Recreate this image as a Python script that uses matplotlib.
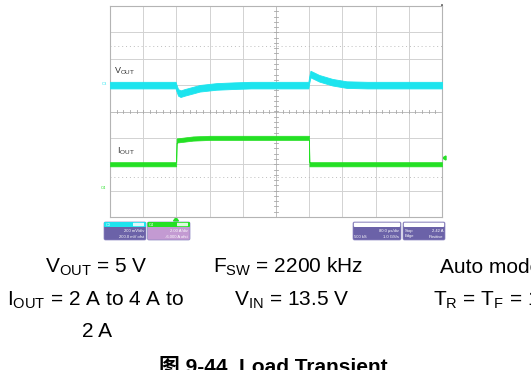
import matplotlib
matplotlib.use("Agg")
import matplotlib.pyplot as plt
import numpy as np
from matplotlib.patches import FancyBboxPatch, Polygon

plt.rcParams['font.family'] = ['Liberation Sans', 'Noto Sans CJK SC', 'DejaVu Sans']
plt.rcParams['mathtext.fontset'] = 'custom'
plt.rcParams['mathtext.rm'] = 'Liberation Sans'
plt.rcParams['mathtext.it'] = 'Liberation Sans'

# scope capture, 80 us/div, 10 divisions
t_vout = [0, 158, 160, 164, 170, 180, 200, 216, 256, 300, 340, 478, 480, 483, 504, 536, 570, 620, 800]
vout_mv = [0, 0, -20, -55, -65, -55, -38, -24, -10, -4, 0, 0, 40, 84, 52, 22, 4, 0, 0]
t_iout = [0, 159.5, 160.5, 200, 240, 479.5, 480.5, 800]
iout_a = [2.0, 2.0, 3.8, 3.95, 4.0, 4.0, 2.0, 2.0]

vout_scale = 200.0   # mV/div
iout_scale = 2.0     # A/div
vout_pos = 1.0       # div
iout_pos = -3.0      # div

ch_boxes = [("C3", "200 mV/div", "200.0 mV ofst"), ("C4", "2.00 A/div", "-6.000 A ofst")]
tb_boxes = [("80.0 \u00b5s/div", "500 kS", "1.0 GS/s"), ("Stop", "2.42 A", "Edge", "Positive")]

conds = [
    (r"$\mathregular{V_{OUT}}$ = 5 V", 96, 273, 'center'),
    (r"$\mathregular{F_{SW}}$ = 2200 kHz", 288, 273, 'center'),
    ("Auto mode", 440, 273, 'left'),
    (r"$\mathregular{I_{OUT}}$ = 2 A to 4 A to", 96, 306, 'center'),
    (r"$\mathregular{V_{IN}}$ = 13.5 V", 292, 306, 'center'),
    (r"$\mathregular{T_R}$ = $\mathregular{T_F}$ = 1 \u00b5s", 433, 306, 'left'),
    ("2 A", 97, 337, 'center'),
]

cyan = '#1de4ee'
green = '#24e024'
grid_c = '#d2d2d2'

fig = plt.figure(figsize=(5.31, 3.70), dpi=100)
W, H = 531.0, 370.0

# full-figure overlay in pixel units for the panels and text
ov = fig.add_axes([0, 0, 1, 1])
ov.set_xlim(0, W)
ov.set_ylim(H, 0)
ov.axis('off')

ax = fig.add_axes([110 / W, 1 - 217 / H, 332 / W, 211 / H])
ax.set_xlim(0, 800)
ax.set_ylim(-4, 4)
ax.set_xticks([])
ax.set_yticks([])
for s in ax.spines.values():
    s.set_color('#b4b4b4')
    s.set_linewidth(0.8)

for i in range(1, 10):
    ax.axvline(i * 80, color=grid_c, lw=0.7, zorder=0)
for j in range(-3, 4):
    ax.axhline(j, color=grid_c, lw=0.7, zorder=0)
for yy in [2.5, -2.5]:
    ax.axhline(yy, color='#bdbdbd', lw=0.7, ls=(0, (1, 3)), zorder=0)

# small ticks on the center lines
for k in np.arange(0, 800.1, 16):
    ax.plot([k, k], [-0.06, 0.06], color='#a8a8a8', lw=0.6, zorder=1)
for k in np.arange(-4, 4.01, 0.2):
    ax.plot([396, 404], [k, k], color='#a8a8a8', lw=0.6, zorder=1)
ax.axhline(0, color='#c0c0c0', lw=0.7, zorder=0)
ax.axvline(400, color='#c0c0c0', lw=0.7, zorder=0)

tv = np.array(t_vout, dtype=float)
yv = vout_pos + np.array(vout_mv) / vout_scale
ax.fill_between(tv, yv - 0.125, yv + 0.125, color=cyan, lw=0.6, zorder=3)
ti = np.array(t_iout, dtype=float)
yi = iout_pos + np.array(iout_a) / iout_scale
ax.fill_between(ti, yi - 0.08, yi + 0.08, color=green, lw=0.5, zorder=3)

ax.text(10, 1.52, r"$\mathregular{V_{OUT}}$", fontsize=6.5, color='#333333', va='center')
ax.text(17, -1.52, r"$\mathregular{I_{OUT}}$", fontsize=6.5, color='#333333', va='center')

# channel markers, trigger markers
ov.text(104, 84, "C3", fontsize=3, color=cyan, ha='center', va='center')
ov.text(103, 188, "C4", fontsize=3, color=green, ha='center', va='center')
ov.add_patch(Polygon([[442.5, 158], [446, 156], [446, 160]], closed=True, color=green))
ov.add_patch(Polygon([[176, 217.5], [173.5, 221], [178.5, 221]], closed=True, color=green))
ov.plot([441.8, 441.8], [5, 15], color='#555555', lw=1.2)

# channel info panels
panels = [(104, 146, cyan, '#6b62a8'), (147.5, 190, green, '#c39ad2')]
for (x0, x1, hc, bc), (name, l1, l2) in zip(panels, ch_boxes):
    ov.add_patch(FancyBboxPatch((x0, 222), x1 - x0, 18, boxstyle="round,pad=0,rounding_size=1.5",
                                fc=bc, ec='#8c84c0', lw=0.5))
    ov.add_patch(FancyBboxPatch((x0, 222), x1 - x0, 5, boxstyle="round,pad=0,rounding_size=1",
                                fc=hc, ec='none'))
    ov.add_patch(FancyBboxPatch((x1 - 13, 222.8), 11, 3.4, boxstyle="round,pad=0,rounding_size=0.5",
                                fc='white', ec='none', alpha=0.85))
    ov.text(x0 + 1.5, 224.6, name, fontsize=2.8, color='white', va='center')
    ov.text(x1 - 2, 231, l1, fontsize=3, color='white', ha='right', va='center')
    ov.text(x1 - 2, 236.5, l2, fontsize=3, color='white', ha='right', va='center')

tb = [(353, 401), (403, 445)]
for (x0, x1) in tb:
    ov.add_patch(FancyBboxPatch((x0, 222), x1 - x0, 18, boxstyle="round,pad=0,rounding_size=1.5",
                                fc='#6b62a8', ec='#8c84c0', lw=0.5))
    ov.add_patch(FancyBboxPatch((x0 + 0.8, 222.6), x1 - x0 - 1.6, 4.4, boxstyle="round,pad=0,rounding_size=1",
                                fc='white', ec='none'))
a = tb_boxes[0]
ov.text(399, 231, a[0], fontsize=3, color='white', ha='right', va='center')
ov.text(354.5, 236.5, a[1], fontsize=3, color='white', ha='left', va='center')
ov.text(399, 236.5, a[2], fontsize=3, color='white', ha='right', va='center')
b = tb_boxes[1]
ov.text(404.5, 231, b[0], fontsize=3, color='white', ha='left', va='center')
ov.text(443, 231, b[1], fontsize=3, color='white', ha='right', va='center')
ov.text(404.5, 236.5, b[2], fontsize=3, color='white', ha='left', va='center')
ov.text(443, 236.5, b[3], fontsize=3, color='white', ha='right', va='center')

for txt, x, y, ha in conds:
    ov.text(x, y, txt, fontsize=15, color='black', ha=ha, va='baseline')

ov.text(273, 373, "图 9-44. Load Transient", fontsize=15, fontweight='bold',
        ha='center', va='baseline', family=['Liberation Sans', 'Noto Sans CJK SC'])

fig.savefig('out.png', dpi=100)
